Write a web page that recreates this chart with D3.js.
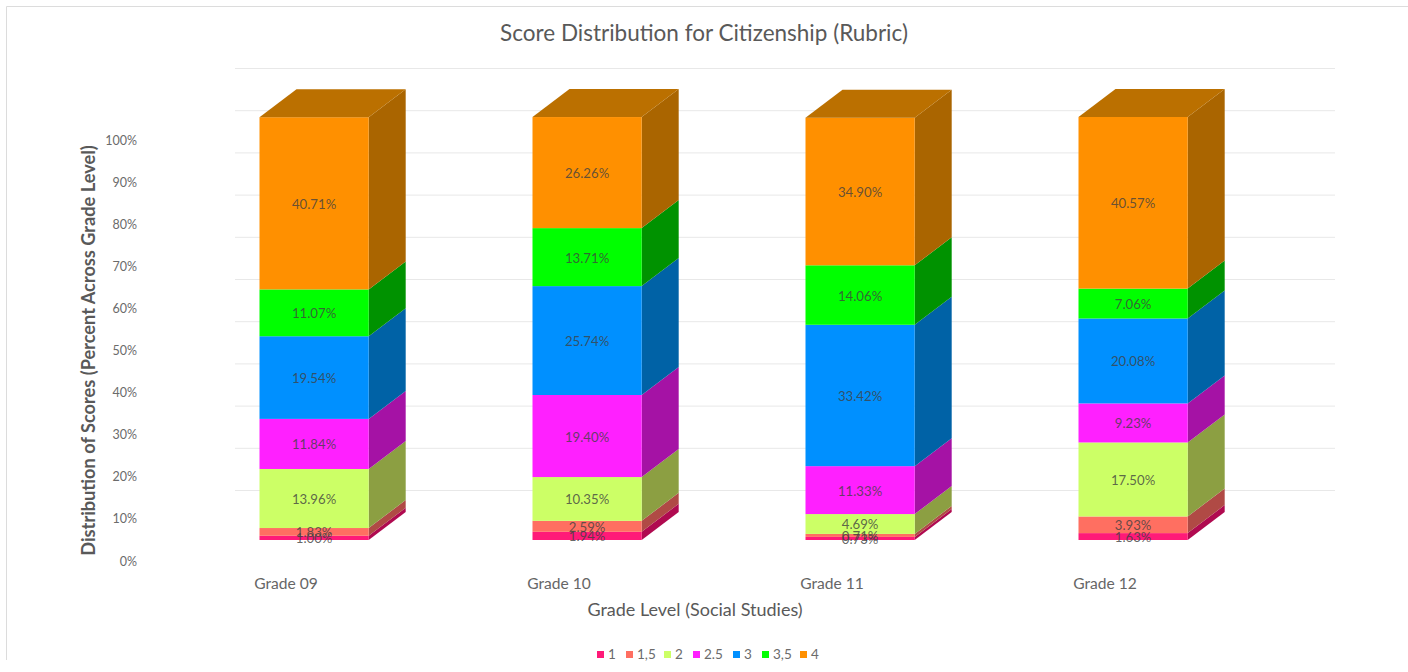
<!DOCTYPE html>
<html>
<head>
<meta charset="utf-8">
<script src="https://cdnjs.cloudflare.com/ajax/libs/d3/7.8.5/d3.min.js"></script>
<style>
html,body{margin:0;padding:0;background:#fff;overflow:hidden}
svg{display:block}
text{font-family:Lato,"Open Sans",sans-serif}
</style>
</head>
<body>
<svg id="c" width="1408" height="672"></svg>
<script>
const grades = ["Grade 09","Grade 10","Grade 11","Grade 12"];
const scoreLevels = ["1","1,5","2","2.5","3","3,5","4"];
const score1   = [1.00,1.94,0.73,1.63];
const score15  = [1.83,2.59,0.71,3.93];
const score2   = [13.96,10.35,4.69,17.50];
const score25  = [11.84,19.40,11.33,9.23];
const score3   = [19.54,25.74,33.42,20.08];
const score35  = [11.07,13.71,14.06,7.06];
const score4   = [40.71,26.26,34.90,40.57];
const allSeries = [score1,score15,score2,score25,score3,score35,score4];
const frontColors = ["#ff1a78","#ff6f61","#ccff66","#ff20ff","#0090ff","#00ff00","#ff9000"];
const sideColors  = ["#b00a50","#b04a45","#8c9f42","#a512a5","#0062a6","#009200","#aa6500"];
const topColor = "#bb7000";
const percentTicks = [0,10,20,30,40,50,60,70,80,90,100];

const svg = d3.select("#c");
const depthX = 37, depthY = -28;

const x = d3.scaleBand().domain(grades).range([177.6,1269.6]).paddingInner(0.6).paddingOuter(0.3);
const y = d3.scaleLinear().domain([0,100]).range([540,117]);
const yLabel = d3.scaleLinear().domain([0,100]).range([561,140]);
const yGrid = d3.scaleLinear().domain([0,100]).range([490,68]);

// frame
svg.append("path").attr("d","M6.5,660V6.5H1408").attr("fill","none").attr("stroke","#dcdcdc").attr("stroke-width",1);

// gridlines on the back wall
svg.append("g").selectAll("line").data(percentTicks).join("line")
  .attr("x1",235).attr("x2",1335)
  .attr("y1",d=>yGrid(d)+0.5).attr("y2",d=>yGrid(d)+0.5)
  .attr("stroke","#e8e8e8").attr("stroke-width",1);

// y tick labels
svg.append("g").selectAll("text").data(percentTicks).join("text")
  .attr("x",137).attr("y",d=>yLabel(d)+4.5).attr("text-anchor","end")
  .attr("font-size",12.5).attr("fill","#6b6b6b").text(d=>d+"%");

// stacks
const stacked = allSeries.map(s=>[]);
grades.forEach((g,i)=>{
  let acc=0;
  allSeries.forEach((s,k)=>{ stacked[k].push({grade:g,k,v:s[i],y0:acc,y1:acc+s[i]}); acc+=s[i]; });
});
const totalTop = grades.map((g,i)=>d3.sum(allSeries,s=>s[i]));
const w = x.bandwidth();

const bars = svg.append("g");
stacked.forEach((seg,k)=>{
  bars.append("g").selectAll("polygon").data(seg).join("polygon")
    .attr("fill",sideColors[k])
    .attr("points",d=>{
      const r=x(d.grade)+w;
      return [[r,y(d.y0)],[r+depthX,y(d.y0)+depthY],[r+depthX,y(d.y1)+depthY],[r,y(d.y1)]].join(" ");
    });
  bars.append("g").selectAll("rect").data(seg).join("rect")
    .attr("x",d=>x(d.grade)).attr("width",w)
    .attr("y",d=>y(d.y1)).attr("height",d=>y(d.y0)-y(d.y1))
    .attr("fill",frontColors[k]);
});
bars.append("g").selectAll("polygon").data(grades).join("polygon")
  .attr("fill",topColor)
  .attr("points",(g,i)=>{
    const l=x(g), r=l+w, t=y(totalTop[i]);
    return [[l,t],[l+depthX,t+depthY],[r+depthX,t+depthY],[r,t]].join(" ");
  });

// data labels
stacked.forEach((seg,k)=>{
  svg.append("g").selectAll("text").data(seg).join("text")
    .attr("x",d=>x(d.grade)+w/2)
    .attr("y",d=>y((d.y0+d.y1)/2)+5.5)
    .attr("text-anchor","middle").attr("font-size",13.2)
    .attr("fill","#404040").attr("fill-opacity",0.8)
    .text(d=>d.v.toFixed(2)+"%");
});

// category labels
svg.append("g").selectAll("text").data(grades).join("text")
  .attr("x",g=>x(g)+w/2-28).attr("y",588.5).attr("text-anchor","middle")
  .attr("font-size",15.6).attr("fill","#666").text(g=>g);

// titles
svg.append("text").attr("x",704).attr("y",40.5).attr("text-anchor","middle")
  .attr("font-size",22.5).attr("fill","#595959").text("Score Distribution for Citizenship (Rubric)");
svg.append("text").attr("x",695).attr("y",616).attr("text-anchor","middle")
  .attr("font-size",18).attr("fill","#595959").text("Grade Level (Social Studies)");
svg.append("text").attr("transform","translate(95,350.5) rotate(-90)").attr("text-anchor","middle")
  .attr("font-size",18.2).attr("font-weight",700).attr("fill","#595959")
  .text("Distribution of Scores (Percent Across Grade Level)");

// legend
const legendX = [597,626,664,693,733,762,800];
const lg = svg.append("g").selectAll("g").data(scoreLevels).join("g")
  .attr("transform",(d,i)=>`translate(${legendX[i]},651)`);
lg.append("rect").attr("width",7).attr("height",7).attr("fill",(d,i)=>frontColors[i]);
lg.append("text").attr("x",11).attr("y",8).attr("font-size",13.5).attr("fill","#6b6b6b").text(d=>d);
</script>
</body>
</html>
